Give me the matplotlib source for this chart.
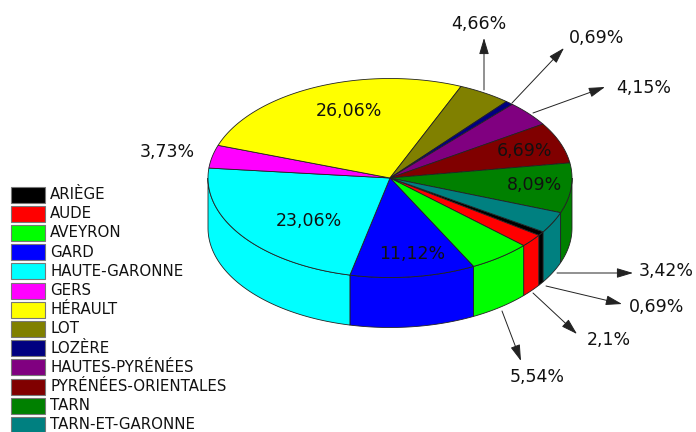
import numpy as np
import matplotlib
matplotlib.use('Agg')
import matplotlib.pyplot as plt
from matplotlib.patches import Polygon, Rectangle

# Departments and their shares, in drawing order (clockwise from Ariege)
departments = ['ARIÈGE', 'AUDE', 'AVEYRON', 'GARD', 'HAUTE-GARONNE', 'GERS', 'HÉRAULT', 'LOT',
               'LOZÈRE', 'HAUTES-PYRÉNÉES', 'PYRÉNÉES-ORIENTALES', 'TARN', 'TARN-ET-GARONNE']
shares = [0.69, 2.1, 5.54, 11.12, 23.06, 3.73, 26.06, 4.66, 0.69, 4.15, 6.69, 8.09, 3.42]
share_labels = ['0,69%', '2,1%', '5,54%', '11,12%', '23,06%', '3,73%', '26,06%', '4,66%',
                '0,69%', '4,15%', '6,69%', '8,09%', '3,42%']
colors = ['#000000', '#ff0000', '#00ff00', '#0000ff', '#00ffff', '#ff00ff', '#ffff00', '#808000',
          '#000080', '#800080', '#800000', '#008000', '#008080']

# Label layout in pixels: text position, then arrow tail and head (None = no arrow)
label_pos = [(657, 307), (609, 340), (537, 377), (412, 254), (309, 221), (167, 152), (349, 111),
             (479, 24), (597, 38), (644, 88), (525, 151), (534, 185), (666, 271)]
arrows = [((546, 286), (622, 304)), ((533, 293), (577, 334)), ((502, 311), (521, 361)), None, None, None, None,
          ((484, 90), (484, 38)), ((512, 103), (564, 48)), ((533, 113), (605, 87)), None, None,
          ((557, 273), (633, 273))]

# Pie geometry
cx, cy = 390, 178
rx, ry = 182, 99.5
depth = 50
start_angle = 32.7

fig = plt.figure(figsize=(6.96, 4.32), dpi=100)
ax = fig.add_axes([0, 0, 1, 1])
ax.set_xlim(0, 696)
ax.set_ylim(432, 0)
ax.axis('off')


def rim(a, b):
    t = np.radians(np.linspace(a, b, max(int(abs(b - a)) + 2, 2)))
    return np.column_stack([cx + rx * np.cos(t), cy + ry * np.sin(t)])


edges = np.cumsum([0] + shares) / sum(shares) * 360 + start_angle

# Side wall first, only the front half can be seen
for i, col in enumerate(colors):
    for lo, hi in [(0, 180), (360, 540)]:
        a, b = max(edges[i], lo), min(edges[i + 1], hi)
        if a < b:
            top = rim(a, b)
            bottom = top[::-1] + [0, depth]
            ax.add_patch(Polygon(np.vstack([top, bottom]), closed=True, facecolor=col,
                                 edgecolor='#222222', linewidth=0.6, zorder=2))

# Top face
for i, col in enumerate(colors):
    pts = np.vstack([[cx, cy], rim(edges[i], edges[i + 1])])
    ax.add_patch(Polygon(pts, closed=True, facecolor=col, edgecolor='#222222', linewidth=0.6, zorder=3))

# Percentages and arrows
for txt, pos, arr in zip(share_labels, label_pos, arrows):
    ax.text(pos[0], pos[1], txt, fontsize=12.5, color='#111111', ha='center', va='center', zorder=5)
    if arr is not None:
        ax.annotate('', xy=arr[1], xytext=arr[0], zorder=4,
                    arrowprops=dict(arrowstyle='-|>,head_length=1.0,head_width=0.3', color='#222222',
                                    linewidth=0.7, shrinkA=0, shrinkB=0))

# Legend down the left side, the last row is cut by the image edge
for i, (name, col) in enumerate(zip(departments, colors)):
    y = 194.5 + i * 19.2
    ax.add_patch(Rectangle((11, y - 8), 34, 16, facecolor=col, edgecolor='#777777', linewidth=0.8))
    ax.text(50, y, name, fontsize=10.8, color='#111111', ha='left', va='center')

fig.savefig('out.png', dpi=100)
